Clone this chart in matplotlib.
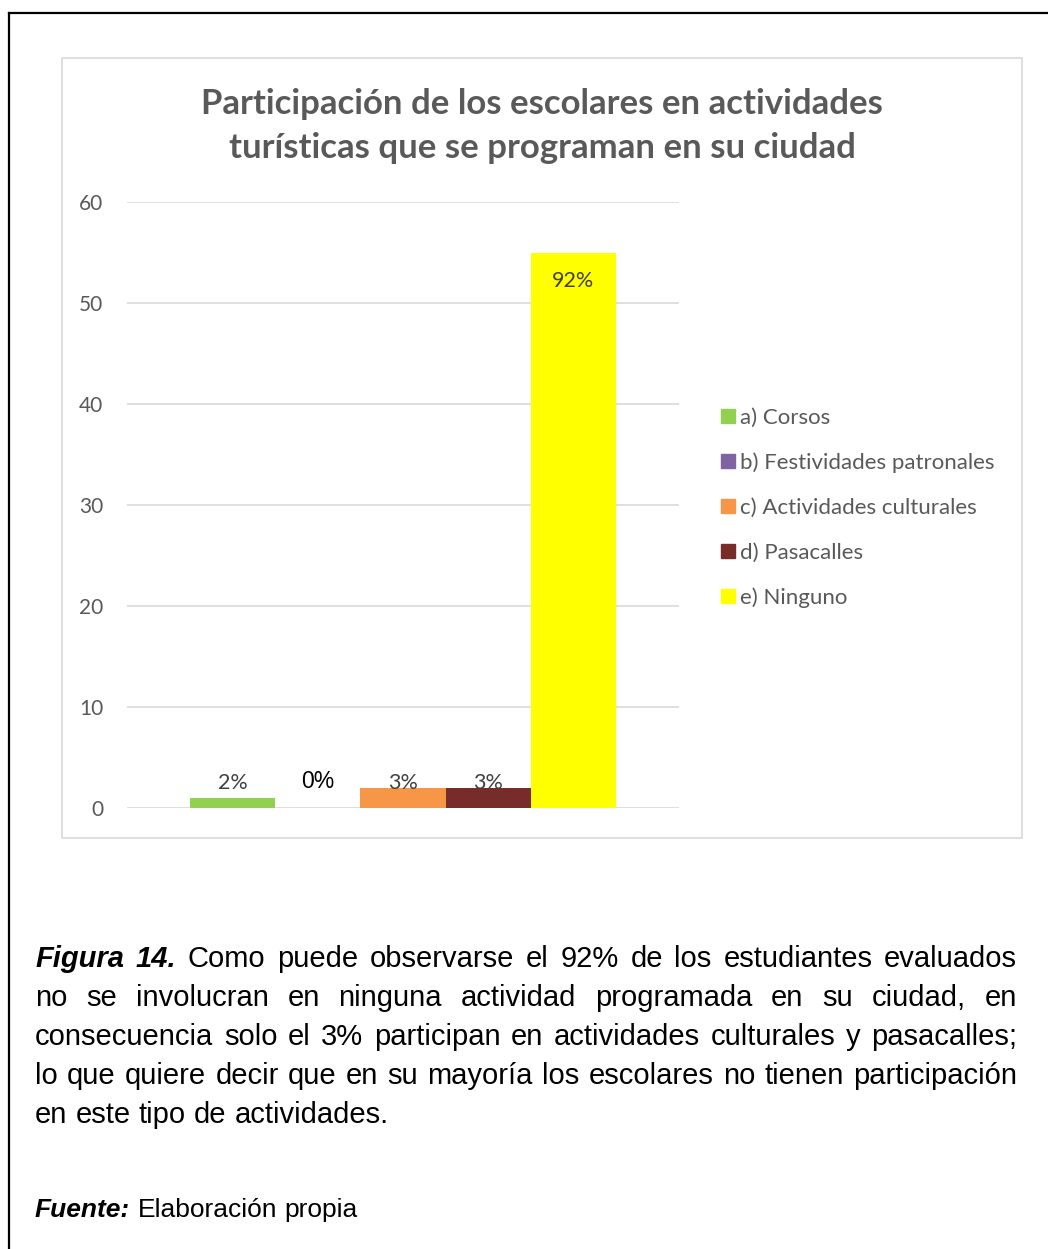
import matplotlib
matplotlib.use("Agg")
import matplotlib.pyplot as plt
from matplotlib.patches import Rectangle
from matplotlib.lines import Line2D

W, H = 1048, 1249

# data
series = ["a) Corsos", "b) Festividades patronales", "c) Actividades culturales",
          "d) Pasacalles", "e) Ninguno"]
values = [1, 0, 2, 2, 55]
labels = ["2%", "0%", "3%", "3%", "92%"]
colors = ["#92D050", "#8064A2", "#F79646", "#772C2A", "#FFFF00"]

title = "Participación de los escolares en actividades\nturísticas que se programan en su ciudad"

caption = [
    ([("Figura 14.", "bi"), ("Como puede observarse el 92% de los estudiantes evaluados", "r")], True),
    ([("no se involucran en ninguna actividad programada en su ciudad, en", "r")], True),
    ([("consecuencia solo el 3% participan en actividades culturales y pasacalles;", "r")], True),
    ([("lo que quiere decir que en su mayoría  los escolares no tienen participación", "r")], True),
    ([("en este tipo de actividades.", "r")], False),
]
source = [("Fuente:", "bi"), ("Elaboración propia", "r")]


def fx(px):
    return px / W


def fy(py):
    return 1 - py / H


fig = plt.figure(figsize=(W / 100, H / 100), dpi=100)
fig.patch.set_facecolor("white")

# outer page border (left + top only visible)
fig.add_artist(Line2D([fx(9), fx(9)], [fy(13), 0], color="black", lw=1.6))
fig.add_artist(Line2D([fx(9), 1], [fy(13), fy(13)], color="black", lw=1.6))

# chart frame
fig.add_artist(Rectangle((fx(62), fy(838)), fx(1022) - fx(62), fy(58) - fy(838),
                         transform=fig.transFigure, fill=False, ec="#D9D9D9", lw=1.2))

chart_font = "Lato"
grey = "#595959"

ax = fig.add_axes([fx(127), fy(808), fx(679) - fx(127), fy(202) - fy(808)])
bw = 0.1543
xs = [(i - 2) * bw for i in range(len(values))]
bars = ax.bar(xs, values, width=bw, color=colors, label=series, zorder=3)
ax.set_xlim(-0.5, 0.5)
ax.set_ylim(0, 60)
ax.set_yticks(range(0, 61, 10))
ax.set_xticks([])
ax.grid(axis="y", color="#D9D9D9", lw=1.2, zorder=0)
for s in ax.spines.values():
    s.set_visible(False)
ax.tick_params(axis="y", length=0, pad=17, labelsize=15, labelcolor=grey)
for t in ax.get_yticklabels():
    t.set_fontfamily(chart_font)

for x, v, lab in zip(xs, values, labels):
    if v > 10:
        ax.text(x, v - 2.8, lab, ha="center", va="center", fontsize=15.5,
                color="#404040", family=chart_font, zorder=4)
    elif v == 0:
        ax.text(x, 2.6, lab, ha="center", va="center", fontsize=16.5,
                color="black", family="Liberation Sans", zorder=4)
    else:
        ax.text(x, 2.5, lab, ha="center", va="center", fontsize=15.5,
                color="#404040", family=chart_font, zorder=4)

fig.text(fx(542), fy(126), title, ha="center", va="center", fontsize=25,
         fontweight="bold", color=grey, family=chart_font, linespacing=1.45)

# legend
for i, (name, c) in enumerate(zip(series, colors)):
    yy = 416 + 45 * i
    fig.add_artist(Rectangle((fx(721), fy(yy + 7)), fx(14), 14 / H,
                             transform=fig.transFigure, color=c))
    fig.text(fx(740), fy(yy + 2), name, ha="left", va="center", fontsize=16,
             color=grey, family=chart_font)

# caption, justified
cap_font = "Liberation Sans"
x0, x1 = 35, 1017
renderer = fig.canvas.get_renderer()


def put_line(parts, base_y, justify, size):
    words = []
    for txt, st in parts:
        for w in txt.split():
            words.append((w, st))
    objs = []
    for w, st in words:
        t = fig.text(fx(x0), fy(base_y), w, ha="left", va="baseline", fontsize=size,
                     family=cap_font, color="black",
                     fontweight="bold" if st == "bi" else "normal",
                     fontstyle="italic" if st == "bi" else "normal")
        objs.append(t)
    widths = [o.get_window_extent(renderer).width for o in objs]
    a1 = fig.text(0, 0, "a a", fontsize=size, family=cap_font)
    a2 = fig.text(0, 0, "aa", fontsize=size, family=cap_font)
    sw = a1.get_window_extent(renderer).width - a2.get_window_extent(renderer).width
    a1.remove()
    a2.remove()
    if justify and len(objs) > 1:
        gap = (x1 - x0 - sum(widths)) / (len(objs) - 1)
    else:
        gap = sw
    x = x0
    for o, w in zip(objs, widths):
        o.set_x(fx(x))
        x += w + gap


for i, (parts, just) in enumerate(caption):
    put_line(parts, 967 + 39 * i, just, 21)
put_line(source, 1217, False, 19)

fig.savefig("out.png", dpi=100)
